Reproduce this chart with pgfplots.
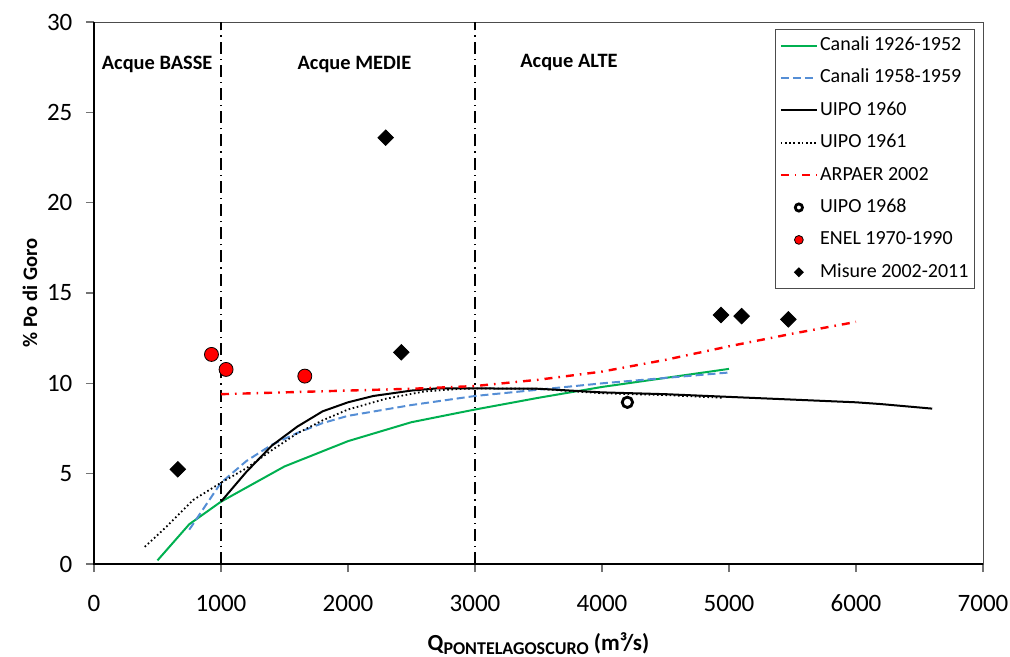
\documentclass[border=0pt]{standalone}
\usepackage{pgfplots}
\pgfplotsset{compat=1.18}
\usepackage{fontspec}
\setmainfont{Carlito}
\definecolor{cgreen}{RGB}{0,176,80}
\definecolor{cblue}{RGB}{85,142,213}
\definecolor{cred}{RGB}{255,0,0}
\begin{document}
\begin{tikzpicture}
\begin{axis}[
  scale only axis, width=444.5bp, height=271bp,
  xmin=0, xmax=7000, ymin=0, ymax=30,
  xtick={0,1000,...,7000}, ytick={0,5,...,30},
  xtick pos=bottom, ytick pos=left,
  tick align=outside,
  major tick length=4bp,
  every tick/.style={draw=black!55, line width=0.6bp},
  axis line style={draw=black!70, line width=0.5bp},
  /pgf/number format/assume math mode=true,
  /pgf/number format/set thousands separator={},
  ticklabel style={font=\fontsize{12.5bp}{15bp}\selectfont},
  xticklabel style={yshift=-8bp},
  yticklabel style={xshift=-3.3bp},
  xlabel={\fontsize{11.5bp}{13bp}\selectfont\bfseries Q\raisebox{-0.3ex}{\fontsize{9bp}{10bp}\selectfont PONTELAGOSCURO} (m³/s)},
  xlabel style={at={(axis description cs:0.5,-0.1605)}, anchor=base},
  ylabel={\fontsize{10.3bp}{12bp}\selectfont\bfseries \% Po di Goro},
  ylabel style={at={(axis description cs:-0.072,0.5)}, anchor=center},
  legend style={at={(rel axis cs:1,1)}, anchor=north east, xshift=-4bp, yshift=-3.5bp,
    draw=black!70, line width=0.5bp, font=\fontsize{10bp}{12bp}\selectfont,
    inner xsep=2bp, inner ysep=2.5bp, row sep=5.2bp,
    nodes={inner sep=1bp, text height=7bp, text depth=2bp}},
  legend cell align=left,
  legend image code/.code={\draw[mark repeat=2,mark phase=2,#1] plot coordinates {(0bp,0bp) (9bp,0bp) (18bp,0bp)};},
]
\coordinate (SW) at (rel axis cs:0,0);
% region separators
\addplot[forget plot, black, line width=1bp, dash pattern=on 6bp off 2.5bp on 0.6bp off 2.5bp] coordinates {(1000,0) (1000,30)};
\addplot[forget plot, black, line width=1bp, dash pattern=on 6bp off 2.5bp on 0.6bp off 2.5bp] coordinates {(3000,0) (3000,30)};
% Canali 1926-1952
\addplot[cgreen, line width=1bp, no marks] coordinates {
(500,0.2) (750,2.2) (1000,3.45) (1500,5.4) (2000,6.8) (2500,7.85) (3000,8.55) (3500,9.2) (4000,9.8) (4500,10.3) (5000,10.8)};
\addlegendentry{Canali 1926-1952}
% Canali 1958-1959
\addplot[cblue, line width=1bp, no marks, dash pattern=on 4bp off 2bp] coordinates {
(750,1.9) (1000,4.5) (1200,5.7) (1400,6.6) (1600,7.25) (1800,7.8) (2000,8.2) (2500,8.8) (3000,9.3) (3500,9.65) (4000,10.0) (4500,10.3) (5000,10.6)};
\addlegendentry{Canali 1958-1959}
% UIPO 1960
\addplot[black, line width=1bp, no marks] coordinates {
(1000,3.45) (1200,5.1) (1400,6.55) (1600,7.6) (1800,8.45) (2000,8.95) (2200,9.3) (2500,9.6) (2700,9.72) (3000,9.72) (3500,9.7) (4000,9.5) (4500,9.4) (5000,9.25) (5500,9.1) (6000,8.95) (6200,8.85) (6600,8.6)};
\addlegendentry{UIPO 1960}
% UIPO 1961
\addplot[black, line width=0.9bp, no marks, dash pattern=on 0.8bp off 1.3bp] coordinates {
(400,0.95) (570,2.06) (780,3.54) (1000,4.5) (1200,5.3) (1400,6.3) (1600,7.23) (1800,7.95) (2000,8.55) (2300,9.15) (2600,9.55) (2850,9.68) (3000,9.72) (3500,9.7) (4000,9.45) (4500,9.35) (4950,9.2)};
\addlegendentry{UIPO 1961}
% ARPAER 2002
\addplot[cred, line width=1.2bp, no marks, dash pattern=on 4bp off 3bp on 0.8bp off 3bp] coordinates {
(1000,9.4) (1500,9.5) (2000,9.6) (2500,9.7) (3000,9.85) (3500,10.2) (4000,10.65) (4500,11.3) (5000,12.05) (5500,12.75) (6000,13.4)};
\addlegendentry{ARPAER 2002}
% UIPO 1968
\addplot[only marks, mark=o, mark size=2.6bp, black, line width=1.4bp, legend image post style={mark size=1.8bp}] coordinates {(4200,8.95)};
\addlegendentry{UIPO 1968}
% ENEL 1970-1990
\addplot[only marks, mark=*, mark size=3.5bp, draw=black, fill=cred, line width=0.4bp, legend image post style={mark size=2.2bp}] coordinates {(925,11.6) (1040,10.77) (1660,10.4)};
\addlegendentry{ENEL 1970-1990}
% Misure 2002-2011
\addplot[only marks, mark=square*, mark size=2.75bp, mark options={rotate=45}, black, legend image post style={mark size=1.5bp}] coordinates {
(660,5.24) (2297,23.6) (2420,11.72) (4937,13.78) (5100,13.72) (5467,13.54)};
\addlegendentry{Misure 2002-2011}
% labels
\node[anchor=base, font=\fontsize{10.2bp}{12bp}\selectfont\bfseries] at (axis cs:497,27.37) {Acque BASSE};
\node[anchor=base, font=\fontsize{10.2bp}{12bp}\selectfont\bfseries] at (axis cs:2051,27.37) {Acque MEDIE};
\node[anchor=base, font=\fontsize{10.2bp}{12bp}\selectfont\bfseries] at (axis cs:3740,27.5) {Acque ALTE};
\end{axis}
\draw[black, line width=0.9bp] ([yshift=271bp]SW) -- (SW) -- ++(444.5bp,0);
\pgfresetboundingbox
\path[use as bounding box] ([xshift=-47bp,yshift=-46.5bp]SW) rectangle ++(505bp,328.5bp);
\end{tikzpicture}
\end{document}
